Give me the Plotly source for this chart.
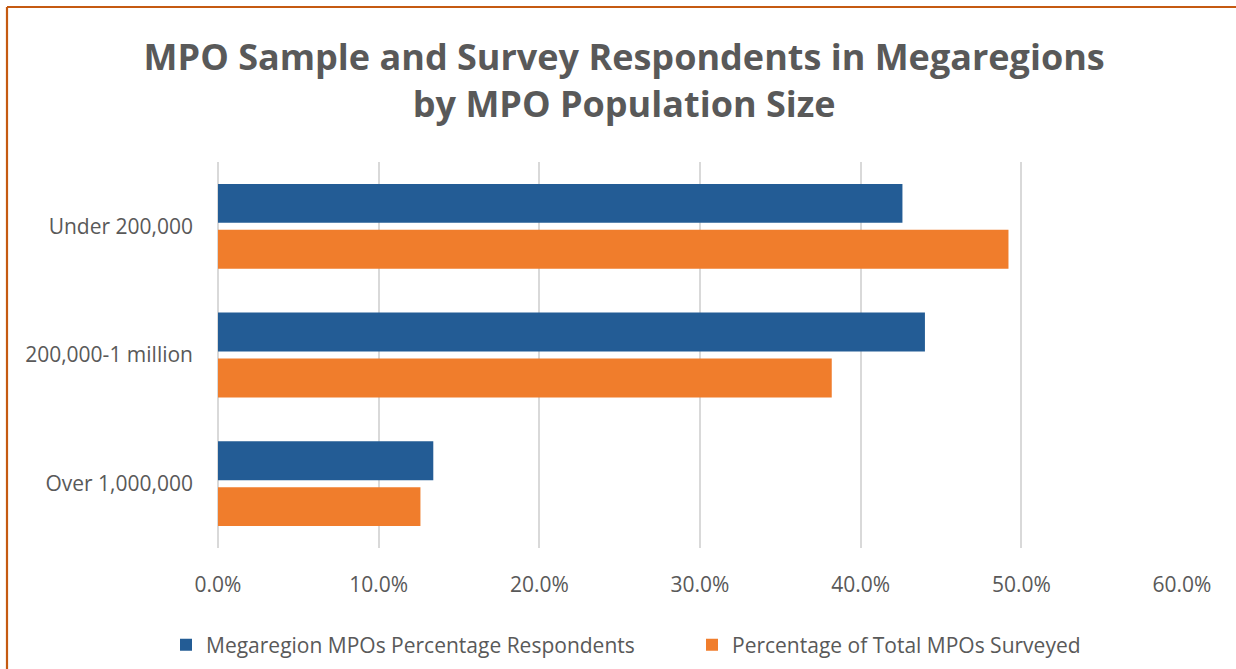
import plotly.graph_objects as go

categories = ["Under 200,000", "200,000-1 million", "Over 1,000,000"]
respondents = [0.426, 0.440, 0.134]
surveyed = [0.492, 0.382, 0.126]
series_names = ["Megaregion MPOs Percentage Respondents", "Percentage of Total MPOs Surveyed"]
tick_vals = [0, 0.1, 0.2, 0.3, 0.4, 0.5, 0.6]

W, H = 1236, 669
ML, MR, MT, MB = 218, 54, 162, 121
PW, PH = W - ML - MR, H - MT - MB

def px_x(p):
    return (p - ML) / PW

def px_y(p):
    return (H - MB - p) / PH

fig = go.Figure()
fig.add_trace(go.Bar(y=categories, x=respondents, orientation="h", name=series_names[0],
                     marker=dict(color="#235c95", line=dict(width=0)), legend="legend",
                     showlegend=True))
fig.add_trace(go.Bar(y=categories, x=surveyed, orientation="h", name=series_names[1],
                     marker=dict(color="#f07d2c", line=dict(width=0)), legend="legend2",
                     showlegend=True))

grey = "#595959"
FONT = "Open Sans, Lato, sans-serif"
leg_common = dict(orientation="h", xref="container", xanchor="left",
                  yref="container", yanchor="middle", y=1 - 645 / H,
                  font=dict(size=21, color=grey, family=FONT), bgcolor="rgba(0,0,0,0)")
fig.update_layout(
    width=W, height=H,
    margin=dict(l=ML, r=MR, t=MT, b=MB),
    paper_bgcolor="white", plot_bgcolor="white",
    showlegend=True,
    barmode="group", bargap=0.287, bargroupgap=0.152,
    font=dict(family=FONT, color=grey),
    title=dict(text="<b>MPO Sample and Survey Respondents in Megaregions<br>by MPO Population Size</b>",
               x=0.505, xref="container", xanchor="center", y=1 - 70 / H, yanchor="top",
               font=dict(size=36, color=grey, family=FONT)),
    xaxis=dict(range=[0, 0.6], tickvals=tick_vals, tickformat=".1%", showgrid=True,
               gridcolor="#d9d9d9", gridwidth=1.5, zeroline=True, zerolinecolor="#d9d9d9",
               zerolinewidth=1.5, showline=False, ticks="", ticklabelstandoff=22,
               tickfont=dict(size=21, color=grey)),
    yaxis=dict(autorange="reversed", showgrid=False, showline=False, ticks="",
               ticklabelstandoff=24, tickfont=dict(size=21, color=grey)),
    legend=dict(x=166 / W, **leg_common),
    legend2=dict(x=692 / W, **leg_common),
    shapes=[
        dict(type="line", xref="paper", yref="paper", x0=px_x(7), x1=px_x(W + 20),
             y0=px_y(7), y1=px_y(7), line=dict(color="#c55a11", width=2.2)),
        dict(type="line", xref="paper", yref="paper", x0=px_x(7), x1=px_x(7),
             y0=px_y(7), y1=px_y(H + 20), line=dict(color="#c55a11", width=2.2)),
    ],
)

fig.write_html("out.html", config={"displayModeBar": False},
               post_script="document.body.style.margin='0';document.body.style.overflow='hidden';")
